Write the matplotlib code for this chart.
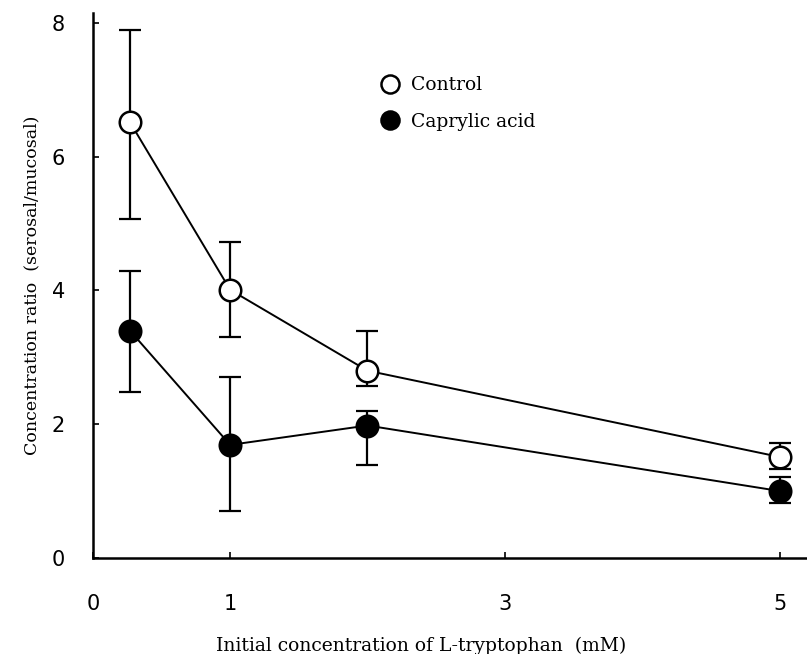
import matplotlib
matplotlib.use("Agg")
import matplotlib.pyplot as plt
from matplotlib.lines import Line2D

# Data
x_conc = [0.27, 1, 2, 5]
control = [6.52, 4.01, 2.80, 1.51]
control_err_up = [1.38, 0.71, 0.59, 0.21]
control_err_dn = [1.45, 0.71, 0.23, 0.18]
capry = [3.40, 1.69, 1.98, 1.00]
capry_err_up = [0.89, 1.01, 0.22, 0.21]
capry_err_dn = [0.92, 0.99, 0.59, 0.18]
xticks = [0, 1, 3, 5]
yticks = [0, 2, 4, 6, 8]

fig = plt.figure(figsize=(8.07, 6.54), dpi=100)
ax = fig.add_axes([0.115, 0.147, 0.885, 0.833])

serif = "DejaVu Serif"

ax.errorbar(x_conc, control, yerr=[control_err_dn, control_err_up], fmt="none",
            ecolor="black", elinewidth=1.6, capsize=8, capthick=1.6, zorder=2)
ax.errorbar(x_conc, capry, yerr=[capry_err_dn, capry_err_up], fmt="none",
            ecolor="black", elinewidth=1.6, capsize=8, capthick=1.6, zorder=2)
ax.plot(x_conc, control, color="black", lw=1.4, marker="o", ms=15.5,
        mfc="white", mec="black", mew=1.8, zorder=3)
ax.plot(x_conc, capry, color="black", lw=1.4, marker="o", ms=15.5,
        mfc="black", mec="black", mew=1.8, zorder=3)

ax.set_xlim(0, 5.2)
ax.set_ylim(0, 8.15)
ax.set_xticks(xticks)
ax.set_xticklabels([str(t) for t in xticks])
ax.set_yticks(yticks)
ax.set_yticklabels([str(t) for t in yticks])
ax.spines["top"].set_visible(False)
ax.spines["right"].set_visible(False)
ax.spines["left"].set_linewidth(1.8)
ax.spines["bottom"].set_linewidth(1.8)
ax.tick_params(direction="in", length=4, width=1.2, labelsize=15)
ax.tick_params(axis="x", pad=26)
ax.tick_params(axis="y", pad=20)

ax.set_xlabel("Initial concentration of L-tryptophan  (mM)", family=serif,
              fontsize=13.5)
ax.xaxis.set_label_coords(0.46, -0.145)
ax.set_ylabel("Concentration ratio  (serosal/mucosal)", family=serif,
              fontsize=12.5, labelpad=8)

handles = [
    Line2D([], [], ls="none", marker="o", ms=13, mfc="white", mec="black", mew=1.8),
    Line2D([], [], ls="none", marker="o", ms=13, mfc="black", mec="black", mew=1.8),
]
leg = ax.legend(handles, ["Control", "Caprylic acid"], loc="upper left",
                bbox_to_anchor=(0.38, 0.915), frameon=False,
                prop={"family": serif, "size": 13.5}, handlelength=1.0,
                handletextpad=0.6, labelspacing=1.0)

fig.savefig("out.png", dpi=100)
